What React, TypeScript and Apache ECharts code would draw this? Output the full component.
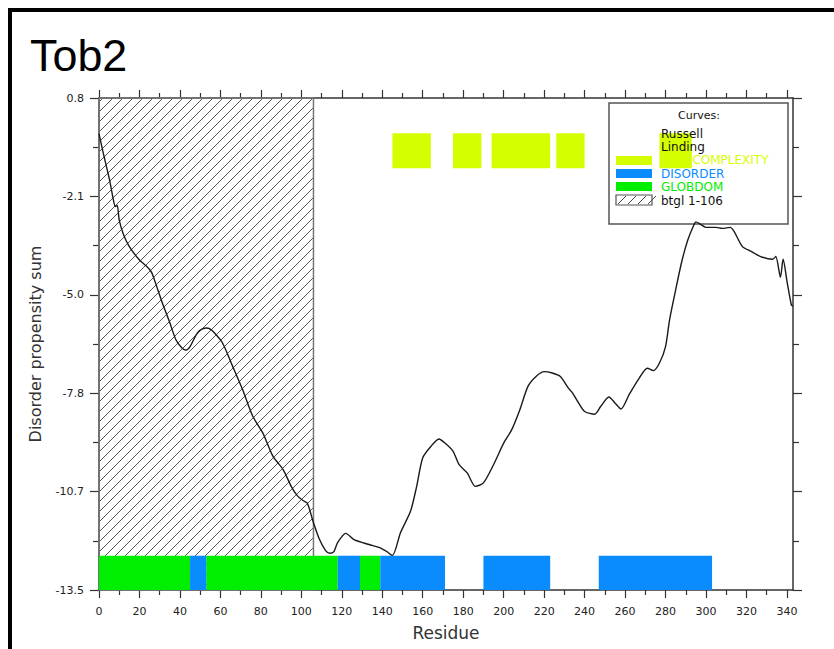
import React, { useEffect, useRef } from 'react';
import * as echarts from 'echarts';

// Smoothed disorder propensity sum along the sequence
const CURVE_RESIDUE = [
  0, 2, 5, 7, 8, 9, 10, 12, 15, 20, 24, 26, 28, 31, 35, 38, 41, 43, 45, 48, 50, 53, 55, 57, 61,
  66, 71, 76, 81, 86, 91, 95, 98, 101, 103, 106, 109, 112, 114, 116, 118, 122, 126, 131, 135,
  139, 142, 145, 149, 154, 157, 160, 164, 168, 171, 175, 178, 182, 186, 190, 195, 200, 204, 208,
  212, 216, 220, 224, 228, 232, 234, 237, 240, 245, 248, 252, 255, 258, 262, 267, 271, 274, 277,
  280, 282, 285, 288, 291, 294, 295, 297, 300, 305, 308, 312, 314, 318, 322, 327, 333, 334.5,
  336.8, 338.1, 340.2, 342.2, 343,
];
const CURVE_SUM = [
  -0.26, -0.8, -1.55, -2.15, -2.38, -2.35, -2.78, -3.18, -3.55, -3.94, -4.15, -4.3, -4.62, -5.14,
  -5.77, -6.26, -6.5, -6.56, -6.46, -6.12, -5.98, -5.92, -5.95, -6.06, -6.35, -7.03, -7.72, -8.49,
  -8.98, -9.66, -10.04, -10.53, -10.8, -10.95, -11.02, -11.59, -12.08, -12.4, -12.48, -12.44,
  -12.16, -11.9, -12.08, -12.18, -12.25, -12.32, -12.42, -12.54, -11.88, -11.25, -10.53, -9.7,
  -9.37, -9.15, -9.27, -9.51, -9.9, -10.14, -10.53, -10.43, -9.9, -9.27, -8.88, -8.3, -7.62,
  -7.33, -7.19, -7.23, -7.33, -7.67, -7.81, -8.1, -8.35, -8.43, -8.2, -7.93, -8.1, -8.28, -7.86,
  -7.38, -7.09, -7.16, -6.94, -6.46, -5.68, -4.81, -3.99, -3.36, -2.92, -2.83, -2.89, -2.99,
  -2.99, -3.02, -2.99, -3.12, -3.55, -3.68, -3.84, -3.92, -3.84, -4.44, -3.92, -4.62, -5.25, -5.28,
];

// Predicted regions, [start, end] residue
const GLOBDOM = [[0, 45], [53, 118], [129, 139]];
const DISORDER = [[45, 53], [118, 129], [139, 171], [190, 223], [247, 303]];
const LOW_COMPLEXITY = [[145, 164], [175, 189], [194, 223], [226, 240], [277, 293]];
const BTGL = [[0, 106]];

// Axes
const X_RANGE = [0, 343];
const Y_RANGE = [-13.548, 0.777];
const X_MAJOR = [0, 20, 40, 60, 80, 100, 120, 140, 160, 180, 200, 220, 240, 260, 280, 300, 320, 340];
const X_MINOR = [10, 30, 50, 70, 90, 110, 130, 150, 170, 190, 210, 230, 250, 270, 290, 310, 330];
const Y_MAJOR = [-13.548, -10.683, -7.818, -4.953, -2.088, 0.777];
const Y_MINOR = [-12.1155, -9.2505, -6.3855, -3.5205, -0.6555];

// Vertical extent of the feature tracks (data units)
const TRACK_BOTTOM = [-13.548, -12.55];
const TRACK_TOP = [-1.27, -0.25];

const AXIS_COLOR = '#333';
const LABEL_FONT = 'DejaVu Sans';
const YELLOW = '#d4ff00';
const BLUE = '#0a8cff';
const GREEN = '#00ee00';

function segmentSeries(name: string, data: number[][], band: number[], color: string, z: number) {
  return {
    type: 'custom',
    name,
    z,
    silent: true,
    xAxisIndex: 0,
    yAxisIndex: 0,
    data,
    encode: { x: [0, 1] },
    renderItem: (_params: any, api: any) => {
      const a = api.coord([api.value(0), band[1]]);
      const b = api.coord([api.value(1), band[0]]);
      return {
        type: 'rect',
        shape: { x: a[0], y: a[1], width: b[0] - a[0], height: b[1] - a[1] },
        style: { fill: color },
      };
    },
  };
}

function xAxis(position: 'top' | 'bottom', ticks: number[], len: number, main: boolean, labels: boolean) {
  return {
    type: 'value',
    position,
    min: X_RANGE[0],
    max: X_RANGE[1],
    gridIndex: 0,
    splitLine: { show: false },
    axisLine: { show: main, onZero: false, lineStyle: { color: AXIS_COLOR, width: 1.5 } },
    axisTick: { show: true, inside: false, length: len, customValues: ticks, lineStyle: { color: AXIS_COLOR, width: 1.2 } },
    axisLabel: {
      show: labels,
      customValues: ticks,
      margin: 16,
      fontFamily: LABEL_FONT,
      fontSize: 11,
      color: '#222',
    },
    ...(labels
      ? {
          name: 'Residue',
          nameLocation: 'middle',
          nameGap: 34,
          nameTextStyle: { fontFamily: LABEL_FONT, fontSize: 17, color: '#333' },
        }
      : {}),
  };
}

function yAxis(position: 'left' | 'right', ticks: number[], len: number, main: boolean, labels: boolean) {
  return {
    type: 'value',
    position,
    min: Y_RANGE[0],
    max: Y_RANGE[1],
    gridIndex: 0,
    splitLine: { show: false },
    axisLine: { show: main, onZero: false, lineStyle: { color: AXIS_COLOR, width: 1.5 } },
    axisTick: { show: true, inside: false, length: len, customValues: ticks, lineStyle: { color: AXIS_COLOR, width: 1.2 } },
    axisLabel: {
      show: labels,
      customValues: ticks,
      margin: 15,
      fontFamily: LABEL_FONT,
      fontSize: 11,
      color: '#222',
      formatter: (v: number) => v.toFixed(1),
    },
    ...(labels
      ? {
          name: 'Disorder propensity sum',
          nameLocation: 'middle',
          nameGap: 56,
          nameRotate: 90,
          nameTextStyle: { fontFamily: LABEL_FONT, fontSize: 16, color: '#333' },
        }
      : {}),
  };
}

function legendGraphics() {
  const sx = 616;
  const sw = 36;
  const tx = 661;
  const font = '12px "DejaVu Sans"';
  const hatch = [0, 1, 2, 3].map((i) => ({
    type: 'line',
    z: 100,
    shape: { x1: sx + 2 + i * 10, y1: 204, x2: sx + 10 + i * 10, y2: 196 },
    style: { stroke: '#444', lineWidth: 1 },
  }));
  return [
    {
      type: 'rect',
      z: 0,
      shape: { x: 609, y: 103, width: 179, height: 121 },
      style: { fill: '#fff', stroke: '#555', lineWidth: 1.5 },
    },
    { type: 'text', z: 100, x: 699, y: 115, style: { text: 'Curves:', font: '11px "DejaVu Sans"', fill: '#111', align: 'center', verticalAlign: 'middle' } },
    { type: 'text', z: 100, x: tx, y: 134, style: { text: 'Russell', font, fill: '#111', verticalAlign: 'middle' } },
    { type: 'text', z: 100, x: tx, y: 146.5, style: { text: 'Linding', font, fill: '#111', verticalAlign: 'middle' } },
    { type: 'rect', z: 100, shape: { x: sx, y: 156, width: sw, height: 9 }, style: { fill: YELLOW } },
    { type: 'text', z: 100, x: tx, y: 159.5, style: { text: 'LOW-COMPLEXITY', font, fill: YELLOW, verticalAlign: 'middle' } },
    { type: 'rect', z: 100, shape: { x: sx, y: 169, width: sw, height: 9 }, style: { fill: BLUE } },
    { type: 'text', z: 100, x: tx, y: 173.5, style: { text: 'DISORDER', font, fill: BLUE, verticalAlign: 'middle' } },
    { type: 'rect', z: 100, shape: { x: sx, y: 182, width: sw, height: 9 }, style: { fill: GREEN } },
    { type: 'text', z: 100, x: tx, y: 187, style: { text: 'GLOBDOM', font, fill: GREEN, verticalAlign: 'middle' } },
    { type: 'rect', z: 100, shape: { x: sx, y: 195, width: sw, height: 10 }, style: { fill: 'none', stroke: '#555', lineWidth: 1.2 } },
    ...hatch,
    { type: 'text', z: 100, x: tx, y: 201, style: { text: 'btgl 1-106', font, fill: '#111', verticalAlign: 'middle' } },
  ];
}

export default function App() {
  const ref = useRef<HTMLDivElement>(null);

  useEffect(() => {
    if (!ref.current) return;
    const chart = echarts.init(ref.current, undefined, { renderer: 'svg' });

    const option: any = {
      animation: false,
      backgroundColor: '#fff',
      grid: { left: 99, top: 98, width: 694, height: 492, containLabel: false, outerBoundsMode: 'none' },
      xAxis: [
        xAxis('bottom', X_MAJOR, 8, true, true),
        xAxis('top', X_MAJOR, 8, true, false),
        xAxis('bottom', X_MINOR, 5, false, false),
        xAxis('top', X_MINOR, 5, false, false),
      ],
      yAxis: [
        yAxis('left', Y_MAJOR, 9, true, true),
        yAxis('right', Y_MAJOR, 9, true, false),
        yAxis('left', Y_MINOR, 6, false, false),
        yAxis('right', Y_MINOR, 6, false, false),
      ],
      graphic: [
        { type: 'rect', z: 200, shape: { x: 8, y: 8, width: 826, height: 4 }, style: { fill: '#000' } },
        { type: 'rect', z: 200, shape: { x: 8, y: 8, width: 4, height: 641 }, style: { fill: '#000' } },
        {
          type: 'text',
          z: 200,
          x: 30,
          y: 56,
          scaleX: 1.02,
          style: { text: 'Tob2', font: '44px "Liberation Sans"', fill: '#000', verticalAlign: 'middle' },
        },
        ...legendGraphics(),
      ],
      series: [
        {
          type: 'custom',
          name: 'btgl 1-106',
          z: 1,
          silent: true,
          xAxisIndex: 0,
          yAxisIndex: 0,
          data: BTGL,
          encode: { x: [0, 1] },
          renderItem: (_params: any, api: any) => {
            const tl = api.coord([api.value(0), Y_RANGE[1]]);
            const br = api.coord([api.value(1), Y_RANGE[0]]);
            const x0 = tl[0];
            const x1 = br[0];
            const yT = tl[1];
            const yB = br[1];
            const h = yB - yT;
            const children: any[] = [];
            for (let c = x0 - h + 4; c < x1; c += 10) {
              const xs = Math.max(x0, c);
              const xe = Math.min(x1, c + h);
              if (xe <= xs) continue;
              children.push({
                type: 'line',
                shape: { x1: xs, y1: yB - (xs - c), x2: xe, y2: yB - (xe - c) },
                style: { stroke: '#555', lineWidth: 1 },
              });
            }
            children.push({
              type: 'rect',
              shape: { x: x0, y: yT, width: x1 - x0, height: h },
              style: { fill: 'none', stroke: '#777', lineWidth: 1.5 },
            });
            return { type: 'group', children };
          },
        },
        segmentSeries('GLOBDOM', GLOBDOM, TRACK_BOTTOM, GREEN, 2),
        segmentSeries('DISORDER', DISORDER, TRACK_BOTTOM, BLUE, 3),
        segmentSeries('LOW-COMPLEXITY', LOW_COMPLEXITY, TRACK_TOP, YELLOW, 3),
        {
          type: 'line',
          name: 'Russell/Linding',
          z: 5,
          xAxisIndex: 0,
          yAxisIndex: 0,
          data: CURVE_RESIDUE.map((r, i) => [r, CURVE_SUM[i]]),
          symbol: 'none',
          showSymbol: false,
          smooth: 0.25,
          lineStyle: { color: '#1a1a1a', width: 1.4 },
          silent: true,
        },
      ],
    };

    chart.setOption(option);
    return () => chart.dispose();
  }, []);

  return (
    <div
      ref={ref}
      style={{ position: 'absolute', left: 0, top: 0, width: 834, height: 649, background: '#fff' }}
    />
  );
}
